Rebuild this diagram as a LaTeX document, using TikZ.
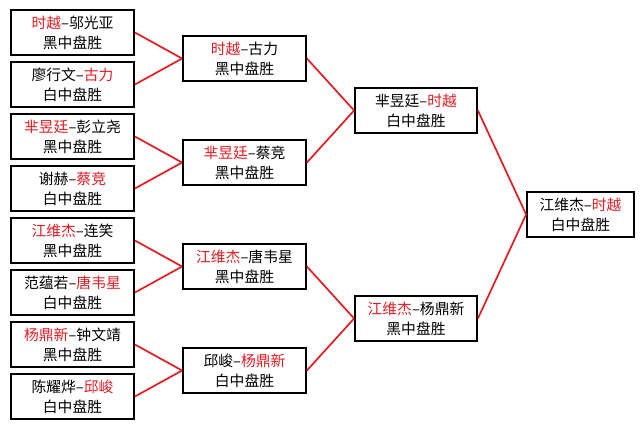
\documentclass[tikz,border=0pt]{standalone}
\usepackage{fontspec}
\setmainfont{Noto Sans CJK SC}
\definecolor{winred}{RGB}{228,28,34}
\newcommand{\win}[1]{\textcolor{winred}{#1}}
\begin{document}
\begin{tikzpicture}[x=1pt,y=-1pt,
    game/.style={draw, line width=1.8pt, minimum width=123pt, minimum height=45pt,
        inner sep=0pt, align=center, font=\fontsize{14.8}{20}\selectfont},
    link/.style={winred, line width=1.7pt}]
    \useasboundingbox (0,0) rectangle (644,429);
    % first round
    \node[game] (a1) at (72.5,32.5)  {\win{时越}–邬光亚\\黑中盘胜};
    \node[game] (a2) at (72.5,84.5)  {廖行文–\win{古力}\\白中盘胜};
    \node[game] (a3) at (72.5,136.5) {\win{芈昱廷}–彭立尧\\黑中盘胜};
    \node[game] (a4) at (72.5,188.5) {谢赫–\win{蔡竞}\\白中盘胜};
    \node[game] (a5) at (72.5,240.5) {\win{江维杰}–连笑\\黑中盘胜};
    \node[game] (a6) at (72.5,292.5) {范蕴若–\win{唐韦星}\\白中盘胜};
    \node[game] (a7) at (72.5,344.5) {\win{杨鼎新}–钟文靖\\黑中盘胜};
    \node[game] (a8) at (72.5,396.5) {陈耀烨–\win{邱峻}\\白中盘胜};
    % second round
    \node[game] (b1) at (244.5,58.5)  {\win{时越}–古力\\黑中盘胜};
    \node[game] (b2) at (244.5,162.5) {\win{芈昱廷}–蔡竞\\黑中盘胜};
    \node[game] (b3) at (244.5,266.5) {\win{江维杰}–唐韦星\\黑中盘胜};
    \node[game] (b4) at (244.5,370.5) {邱峻–\win{杨鼎新}\\白中盘胜};
    % semi-finals
    \node[game, minimum width=122pt] (c1) at (416,110.5) {芈昱廷–\win{时越}\\白中盘胜};
    \node[game, minimum width=122pt] (c2) at (416,318.5) {\win{江维杰}–杨鼎新\\黑中盘胜};
    % final
    \node[game, minimum width=107pt] (d1) at (580.5,214.5) {江维杰–\win{时越}\\白中盘胜};
    \foreach \c/\p in {a1/b1,a2/b1,a3/b2,a4/b2,a5/b3,a6/b3,a7/b4,a8/b4,
                       b1/c1,b2/c1,b3/c2,b4/c2,c1/d1,c2/d1}
        \draw[link] (\c.east) -- (\p.west);
\end{tikzpicture}
\end{document}
